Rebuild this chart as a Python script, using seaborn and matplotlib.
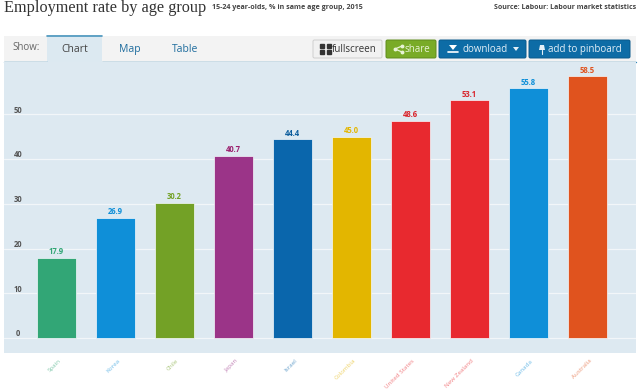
import matplotlib
matplotlib.use("Agg")
import matplotlib.pyplot as plt
from matplotlib.patches import Rectangle, FancyBboxPatch
import pandas as pd
import seaborn as sns

countries = ["Spain", "Korea", "Chile", "Japan", "Israel", "Colombia",
             "United States", "New Zealand", "Canada", "Australia"]
rates = [17.9, 26.9, 30.2, 40.7, 44.4, 45.0, 48.6, 53.1, 55.8, 58.5]
bar_colors = ["#32a676", "#0f8fd8", "#73a126", "#9b3488", "#0a66ac",
              "#e3b600", "#e8292f", "#e8292f", "#0f8fd8", "#e0531e"]
label_colors = ["#32a676", "#0f8fd8", "#73a126", "#9b1f6e", "#0a5c9c",
                "#e3b600", "#d8232a", "#d8232a", "#0f8fd8", "#e0531e"]
y_ticks = [0, 10, 20, 30, 40, 50]
W, H = 640, 389

sns.set_theme(style="white")
plt.rcParams["font.family"] = ["Open Sans", "DejaVu Sans"]

fig = plt.figure(figsize=(W / 100, H / 100), dpi=100)
page = fig.add_axes([0, 0, 1, 1])
page.set_xlim(0, W)
page.set_ylim(H, 0)
page.axis("off")

# header
page.text(4, 8, "Employment rate by age group", family="Liberation Serif", fontsize=11.7,
          color="#333333", va="center")
page.text(212, 7, "15-24 year-olds, % in same age group, 2015", fontsize=5.15,
          fontweight="bold", color="#444444", va="center")
page.text(636, 7, "Source: Labour: Labour market statistics", fontsize=5.05,
          fontweight="bold", color="#444444", va="center", ha="right")

# tab strip
page.add_patch(Rectangle((4, 36), 632, 26, color="#f3f3f3", lw=0))
page.add_patch(Rectangle((47, 35), 55, 27, color="#dce9f1", lw=0))
page.plot([47, 102], [35.5, 35.5], color="#4a95bd", lw=1.2)
page.plot([4, 47], [61.5, 61.5], color="#2f86b5", lw=1)
page.plot([102, 636], [61.5, 61.5], color="#2f86b5", lw=1)
page.text(12, 47, "Show:", fontsize=7, color="#666666", va="center")
page.text(74.5, 49, "Chart", fontsize=7.5, color="#444444", va="center", ha="center")
page.text(130, 49, "Map", fontsize=7.5, color="#1f6d9e", va="center", ha="center")
page.text(185, 49, "Table", fontsize=7.5, color="#1f6d9e", va="center", ha="center")


def button(x0, x1, face, edge, text, color, tx):
    page.add_patch(FancyBboxPatch((x0, 40), x1 - x0, 18, boxstyle="round,pad=0,rounding_size=1.5",
                                  fc=face, ec=edge, lw=0.7))
    page.text(tx, 49, text, fontsize=7, color=color, va="center", ha="center")


button(313, 382, "#f1f1f1", "#cfcfcf", "fullscreen", "#333333", 354)
button(386, 436, "#79ab27", "#5f8c1c", "share", "#e8f3d5", 417)
button(439, 526, "#0d6ca6", "#0a5a8c", "download", "#e4f0f8", 485)
button(529, 630, "#0d6ca6", "#0a5a8c", "add to pinboard", "#e4f0f8", 585)

# small button icons
page.plot([402, 395, 402], [46, 49, 52], color="#e8f3d5", lw=0.9, marker="o", ms=1.8)
page.fill([449, 457, 453], [45, 45, 50], color="white", lw=0)
page.plot([448, 458], [52, 52], color="white", lw=1.2)
page.fill([513, 519, 516], [47, 47, 51], color="#e4f0f8", lw=0)
page.fill([540, 544, 545, 539], [45, 45, 50, 50], color="#e4f0f8", lw=0)
page.plot([542, 542], [50, 54], color="#e4f0f8", lw=0.8)
for px, py in [(322, 46), (329, 46), (322, 52), (329, 52)]:
    page.plot(px, py, marker="s", ms=2.2, color="#333333")

# chart
ax = fig.add_axes([4 / W, 1 - 353 / H, 632 / W, 291 / H])
ax.set_facecolor("#dde9f1")
df = pd.DataFrame({"country": countries, "rate": rates})
sns.barplot(data=df, x="country", y="rate", hue="country", palette=bar_colors, legend=False,
            width=0.66, saturation=1, ax=ax, zorder=3, edgecolor="#f4f8fb", linewidth=0.5)
ax.set_xlim(-0.89, 9.82)
ax.set_ylim(-3.35, 61.7)
ax.set_xlabel("")
ax.set_ylabel("")
ax.set_yticks(y_ticks)
ax.set_yticklabels([])
ax.set_xticks([])
ax.grid(axis="y", color="#f2f6f9", lw=0.9, zorder=0)
for side in ax.spines.values():
    side.set_visible(False)

for tick in y_ticks:
    ax.annotate(str(tick), (0, tick), xycoords=("axes fraction", "data"), xytext=(10, 3),
                textcoords="offset points", fontsize=5.5, fontweight="bold", color="#555555",
                ha="center", va="center", zorder=5)

for i, value in enumerate(rates):
    ax.annotate(f"{value:.1f}", (i, value), xytext=(0, 4.5), textcoords="offset points",
                fontsize=5.5, fontweight="bold", color=label_colors[i], ha="center", va="center")
    ax.annotate(countries[i], (i, 0), xycoords=("data", "axes fraction"), xytext=(2.5, -5),
                textcoords="offset points", fontsize=4.5, color=bar_colors[i], alpha=0.6,
                rotation=45, rotation_mode="anchor", ha="right", va="center", annotation_clip=False)

fig.savefig("out.png", dpi=100)
